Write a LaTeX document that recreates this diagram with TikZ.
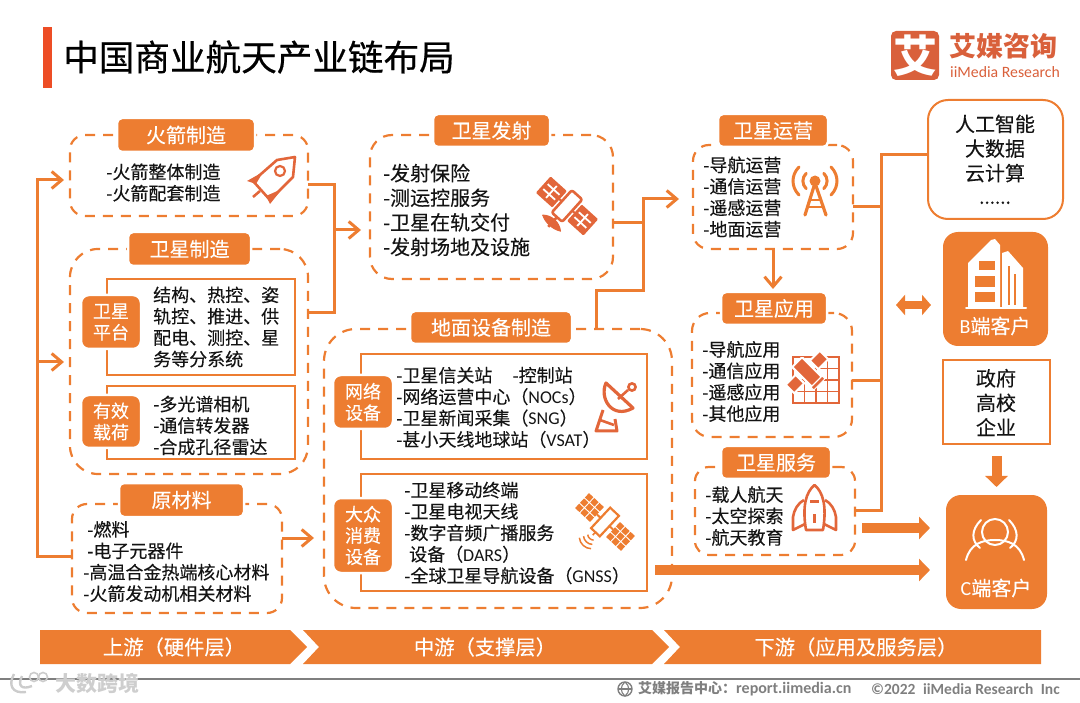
\documentclass[tikz,border=0pt]{standalone}
\usepackage{fontspec}
\usetikzlibrary{arrows.meta,calc}
\setmainfont{Noto Sans CJK SC}[FakeBold=0.2]
\newfontfamily\titlef{Noto Sans CJK SC}[FakeBold=0.5]
\newfontfamily\logof{Noto Sans CJK SC}
\newfontfamily\latf{Carlito}
\newcommand\lat[1]{{\latf #1}}
\newcommand\dn[1]{\raisebox{-1.2pt}{#1}}
\definecolor{og}{HTML}{ED7D31}
\definecolor{ic}{HTML}{E2663A}
\definecolor{lg}{HTML}{D9603B}
\definecolor{tk}{HTML}{141414}
\definecolor{gy}{HTML}{7F7F7F}
\newcommand\boxat[7]{\node[#1,minimum width={(#5-#3)*1pt},minimum height={(#6-#4)*1pt}] (#2) at ({(#3+#5)/2},{(#4+#6)/2}) {#7};}
\tikzset{
 dbox/.style={draw=og,line width=2.2pt,dash pattern=on 10pt off 8pt,inner sep=0pt,outer sep=0pt},
 ibox/.style={draw=og,line width=2.2pt,inner sep=0pt,outer sep=0pt},
 lab/.style={fill=og,draw=white,line width=2.5pt,rounded corners=5pt,inner sep=0pt,outer sep=0pt,text=white,font=\fontsize{20}{24}\selectfont},
 tagb/.style={fill=og,draw=white,line width=2.5pt,rounded corners=8pt,inner sep=0pt,outer sep=0pt,text=white,align=center,font=\fontsize{18}{21.3}\selectfont},
 txt/.style={anchor=west,inner sep=0pt,align=left,text=tk,font=\fontsize{18}{21.4}\selectfont},
 big/.style={inner sep=0pt,align=center,text=tk,font=\fontsize{20}{24.6}\selectfont},
 bandt/.style={inner sep=0pt,text=white,font=\fontsize{20.3}{24}\selectfont},
 conn/.style={draw=og,line width=3pt},
 barb/.style={-{Straight Barb[length=10pt,width=17pt,line width=3pt]}},
 fat/.style={draw=og,line width=10pt,-{Triangle[length=11pt,width=22pt]}},
 cust/.style={fill=og,rounded corners=15pt,inner sep=0pt,outer sep=0pt},
 icl/.style={draw=ic,line width=2.6pt,line join=round},
 wl/.style={draw=white,line width=2pt,line cap=round}
}
\begin{document}
\begin{tikzpicture}[x=1pt,y=-1pt]
\useasboundingbox (0,0) rectangle (1080,703);
% title
\path[fill=ic!70!red!90!orange] (43,27) rectangle (52,88);
\node[anchor=west,inner sep=0pt,text=black,font=\titlef\fontsize{35.6}{40}\selectfont] (title) at (63,57) {中国商业航天产业链布局};
% logo
\boxat{fill=lg,rounded corners=5pt,inner sep=0pt,text=white,font=\logof\bfseries\fontsize{44}{44}\selectfont}{logo}{891}{31}{939}{80}{艾}
\node[anchor=west,inner sep=0pt,text=lg,font=\logof\bfseries\fontsize{27}{27}\selectfont] (lgt) at (949,46.5) {艾媒咨询};
\node[anchor=west,inner sep=0pt,text=lg,font=\latf\fontsize{15.8}{16}\selectfont] (lgl) at (950,72) {iiMedia Research};
% dashed boxes
\boxat{dbox,rounded corners=15pt}{hj}{70}{135}{308}{216}{}
\boxat{dbox,rounded corners=28pt}{wx}{70}{249}{308}{474}{}
\boxat{dbox,rounded corners=15pt}{yl}{72}{504}{282}{613}{}
\boxat{dbox,rounded corners=22pt}{fs}{370}{135}{613}{279}{}
\boxat{dbox,rounded corners=32pt}{dm}{324}{329}{672}{608}{}
\boxat{dbox,rounded corners=16pt}{yy}{693}{145}{853}{249}{}
\boxat{dbox,rounded corners=18pt}{yyu}{692}{313}{852}{437}{}
\boxat{dbox,rounded corners=14pt}{fw}{695}{467}{855}{555}{}
% right-hand boxes
\boxat{draw=og,line width=2pt,rounded corners=20pt,inner sep=0pt,outer sep=0pt}{rg}{928}{100}{1063}{219}{}
\boxat{draw=og,line width=1.6pt,inner sep=0pt,outer sep=0pt}{gov}{943}{360}{1050}{444}{}
\boxat{cust}{bc}{943}{232}{1048}{346}{}
\boxat{cust}{cc}{946}{495}{1047}{609}{}
% coordinates
\coordinate (l1) at (37,180); \coordinate (l2) at (37,362); \coordinate (l3) at (37,556);
\coordinate (c1) at (334,185); \coordinate (c2) at (334,230); \coordinate (c3) at (334,313);
\coordinate (c4) at (298,538);
\coordinate (m1) at (643,223); \coordinate (m2) at (643,199); \coordinate (d1) at (596,291); \coordinate (d2) at (643,291);
\coordinate (r1) at (881,155); \coordinate (r2) at (881,510); \coordinate (rb1) at (881,207); \coordinate (rb2) at (881,381);
\coordinate (f2) at (655,570); \coordinate (f3) at (862,528); \coordinate (da) at (913,305);
% connectors
\draw[conn] (yl.west |- l3) -- (l3) -- (l2);
\draw[conn,barb,shorten >=6pt] (l2) -- (l1) -- (hj.west |- l1);
\draw[conn,barb,shorten >=6pt] (l2) -- (wx.west |- l2);
\draw[conn] (hj.east |- c1) -- (c1) -- (c3) -- (wx.east |- c3);
\draw[conn,barb,shorten >=9pt] (c2) -- (fs.west |- c2);
\draw[conn,barb,shorten >=10pt] (yl.east |- c4) -- (dm.west |- c4);
\draw[conn] (fs.east |- m1) -- (m1);
\draw[conn,barb,shorten >=14pt] (dm.north -| d1) -- (d1) -- (d2) -- (m2) -- (yy.west |- m2);
\draw[conn] (rg.west |- r1) -- (r1) -- (r2) -- (fw.east |- r2);
\draw[conn] (yy.east |- rb1) -- (rb1);
\draw[conn] (yyu.east |- rb2) -- (rb2);
% inner boxes
\boxat{ibox}{i1}{107}{279}{295}{375}{}
\boxat{ibox}{i2}{107}{386}{295}{459}{}
\boxat{ibox}{i3}{361}{354}{647}{459}{}
\boxat{ibox}{i4}{361}{474}{647}{591}{}
% tags
\boxat{tagb}{t1}{81}{295}{141}{349}{卫星\\平台}
\boxat{tagb}{t2}{81}{395}{141}{448}{有效\\载荷}
\boxat{tagb}{t3}{333}{375}{393}{429}{网络\\设备}
\boxat{tagb}{t4}{333}{498}{393}{573}{大众\\消费\\设备}
% labels
\boxat{lab}{L1}{117}{118}{255}{152}{\dn{火箭制造}}
\boxat{lab}{L2}{128}{232}{251}{266}{\dn{卫星制造}}
\boxat{lab}{L3}{119}{483}{244}{517}{\dn{原材料}}
\boxat{lab}{L4}{433}{114}{550}{147}{\dn{卫星发射}}
\boxat{lab}{L5}{410}{311}{572}{344}{\dn{地面设备制造}}
\boxat{lab}{L6}{718}{114}{828}{147}{\dn{卫星运营}}
\boxat{lab}{L7}{721}{292}{827}{325}{\dn{卫星应用}}
\boxat{lab}{L8}{721}{446}{831}{479}{\dn{卫星服务}}
% remaining connectors
\draw[conn,barb,shorten >=3pt] (yy.south) -- (L7.north -| yy.south);
\draw[fat,shorten <=12pt,shorten >=8pt] (gov.south) -- (cc.north);
\draw[fat,shorten >=16pt] (f3) -- (cc.west |- f3);
\draw[fat,shorten >=16pt] (f2) -- (cc.west |- f2);
\draw[draw=og,line width=8pt,{Triangle[length=9pt,width=20pt]}-{Triangle[length=9pt,width=20pt]},shorten <=15pt,shorten >=12pt] (r1 |- da) -- (bc.west |- da);
% texts
\node[txt] (x1) at (106,182.5) {-火箭整体制造\\-火箭配套制造};
\node[txt] (x2) at (153,327) {结构、热控、姿\\轨控、推进、供\\配电、测控、星\\务等分系统};
\node[txt] (x3) at (153,425.5) {-多光谱相机\\-通信转发器\\-合成孔径雷达};
\node[txt] (x4) at (83,561.5) {\hspace{4pt}-燃料\\\hspace{4pt}-电子元器件\\-高温合金热端核心材料\\-火箭发动机相关材料};
\node[txt,font=\fontsize{20}{24.6}\selectfont] (x5) at (383,210) {-发射保险\\-测运控服务\\-卫星在轨交付\\-发射场地及设施};
\node[txt] (x6) at (396,407.5) {-卫星信关站\hspace{20pt}-控制站\\-网络运营中心（\lat{NOCs}）\\-卫星新闻采集（\lat{SNG}）\\-甚小天线地球站（\lat{VSAT}）};
\node[txt] (x7) at (404,533) {-卫星移动终端\\-卫星电视天线\\-数字音频广播服务\\\hspace{5pt}设备（\lat{DARS}）\\-全球卫星导航设备（\lat{GNSS}）};
\node[txt] (x8) at (703,197) {-导航运营\\-通信运营\\-遥感运营\\-地面运营};
\node[txt] (x9) at (702,381.5) {-导航应用\\-通信应用\\-遥感应用\\-其他应用};
\node[txt] (x10) at (705,516) {-载人航天\\-太空探索\\-航天教育};
\node[big] (x11) at (995,160) {人工智能\\大数据\\云计算\\{\raisebox{1.5pt}{\fontsize{19}{24.6}\selectfont ......}}};
\node[big] (x12) at (996,402.5) {政府\\高校\\企业};
\node[inner sep=0pt,text=white,font=\fontsize{20}{24}\selectfont] (x13) at (995,326) {\lat{B}端客户};
\node[inner sep=0pt,text=white,font=\fontsize{20}{24}\selectfont] (x14) at (996,588) {\lat{C}端客户};
% rocket icon
\draw[icl] (277,160) -- (295,157) -- (293,177) -- (270,200) -- (253,181) -- cycle;
\draw[draw=ic,line width=2.2pt] (280,171) circle[radius=5pt];
\path[fill=ic] (263,172) -- (247,181) -- (256,184) -- cycle;
\path[fill=ic] (282,189) -- (270,204) -- (266,196) -- cycle;
\draw[draw=ic,line width=2.6pt] (253,197) -- (260,191);
% satellite icon (launch)
\begin{scope}[shift={(567,206)},rotate=-42]
\foreach \s in {-1,1}{
 \draw[draw=ic,line width=2pt] ({\s*6},0) -- ({\s*11},0);
 \path[fill=ic,draw=ic,line width=2pt,line join=round] ({\s*11},-10) rectangle ({\s*31},10);
 \foreach \v in {-3.3,3.3}{\draw[white,line width=1.8pt] ({\s*13},\v) -- ({\s*29},\v);}
 \draw[white,line width=1.8pt] ({\s*21},-8) -- ({\s*21},8);
}
\draw[icl,fill=white,rounded corners=2pt] (-7,-15) rectangle (7,15);
\draw[icl] (0,15) -- (0,28);
\path[fill=ic,draw=ic,line width=1pt,line join=round] (-12,23) .. controls (-5,17) and (5,17) .. (12,23) .. controls (5,27) and (-5,27) .. (-12,23) -- cycle;
\end{scope}
% dish icon
\draw[icl,line width=3pt] (603,410) -- (596,431) -- (617,431) -- (615,419);
\draw[icl,line width=2.6pt] (600,420) -- (614,425);
\draw[icl,line width=3.2pt,fill=white] (606,383) .. controls (599,398) and (612,420) .. (633,408) -- cycle;
\draw[icl] (618,399) -- (628,390);
\draw[icl,fill=white] (632,387) circle[radius=3.6pt];
% satellite icon (consumer)
\begin{scope}[shift={(605,522)},rotate=-43]
\foreach \s in {-1,1}{
 \foreach \u in {14,21.2,28.4}{\foreach \v in {-7.2,0,7.2}{
  \path[fill=og] ({\s*\u-3},{\v-3}) rectangle ++(6,6);
 }}
 \draw[draw=og,line width=2pt] ({\s*5},0) -- ({\s*11},0);
}
\draw[draw=og,line width=2.2pt,fill=white] (-6,-14) rectangle (6,14);
\draw[draw=og,line width=1.6pt] (0,14) -- (0,18);
\draw[draw=og,line width=1.5pt] (-4,21) .. controls (-2,23) and (2,23) .. (4,21);
\draw[draw=og,line width=1.5pt] (-6,25) .. controls (-3,28) and (3,28) .. (6,25);
\draw[draw=og,line width=1.5pt] (-8,29) .. controls (-4,33) and (4,33) .. (8,29);
\end{scope}
% tower icon
\foreach \r in {11,20}{
 \draw[draw=og,line width=3pt,line cap=round] ({815-0.8*\r},{181-0.7*\r}) .. controls ({815-1.2*\r},{181-0.3*\r}) and ({815-1.2*\r},{181+0.3*\r}) .. ({815-0.8*\r},{181+0.7*\r});
 \draw[draw=og,line width=3pt,line cap=round] ({815+0.8*\r},{181-0.7*\r}) .. controls ({815+1.2*\r},{181-0.3*\r}) and ({815+1.2*\r},{181+0.3*\r}) .. ({815+0.8*\r},{181+0.7*\r});
}
\path[fill=og] (815,181) circle[radius=5.5pt];
\draw[draw=og,line width=3.2pt,line cap=round,line join=round] (805,215) -- (815,183) -- (826,215);
\draw[draw=og,line width=2.6pt] (810,200) -- (821,200);
\draw[draw=og,line width=2.6pt] (807,207) -- (824,207);
% application icon
\draw[draw=ic,line width=1.5pt] (793,357) rectangle (839,403);
\foreach \v in {804.5,816,827.5}{\draw[draw=ic,line width=1.5pt] (\v,357) -- (\v,403);}
\foreach \v in {368.5,380,391.5}{\draw[draw=ic,line width=1.5pt] (793,\v) -- (839,\v);}
\begin{scope}[shift={(807,372)},rotate=-45]
\path[fill=ic,draw=white,line width=2pt,rounded corners=1.5pt] (-14,-7) rectangle (14,7);
\path[fill=ic,draw=white,line width=2pt] (-6,-24) rectangle (6,-10);
\path[fill=ic,draw=white,line width=2pt] (-6,10) rectangle (6,24);
\path[fill=ic,draw=white,line width=1pt,rounded corners=1pt] (13.5,-8) rectangle (17.5,8);
\end{scope}
% rocket icon (service)
\draw[icl] (804,500) .. controls (798,503) and (794,510) .. (793,517) -- (793,530) -- (805,524);
\draw[icl] (825,500) .. controls (831,503) and (835,510) .. (836,517) -- (836,530) -- (824,524);
\draw[icl,fill=white] (806,530) .. controls (802,506) and (806,492) .. (814.5,485) .. controls (823,492) and (827,506) .. (823,530) -- cycle;
\path[fill=ic] (810,500) rectangle (819,502.5);
\path[fill=ic] (813,514) rectangle (816,523);
% building icon
\path[fill=white] (968,263) -- (991,240) -- (995,239) -- (1000,245) -- (1000,307) -- (968,307) -- cycle;
\path[fill=white] (1002,253) -- (1008,251) -- (1023,268) -- (1023,307) -- (1002,307) -- cycle;
\path[fill=og] (979,261) rectangle (995,270);
\path[fill=og] (975,276) rectangle (995,287);
\path[fill=og] (975,292) rectangle (995,302);
\path[fill=og] (1008,266) rectangle (1010,305);
\path[fill=og] (1014,274) rectangle (1016,305);
\draw[wl] (966,308) -- (1026,308);
% people icon
\draw[wl] (995,532) circle[radius=13pt];
\draw[wl] (966,560) .. controls (970,544) and (982,540) .. (995,540) .. controls (1008,540) and (1020,544) .. (1024,560);
\draw[wl] (981,520) .. controls (971,530) and (971,541) .. (980,548);
\draw[wl] (1009,520) .. controls (1019,530) and (1019,541) .. (1010,548);
% bands
\path[fill=og] (40,630) -- (290,630) -- (307,647) -- (290,664) -- (40,664) -- cycle;
\path[fill=og] (303,630) -- (652,630) -- (669,647) -- (652,664) -- (303,664) -- (319,647) -- cycle;
\path[fill=og] (664,630) -- (1041,630) -- (1041,664) -- (664,664) -- (680,647) -- cycle;
\node[bandt] (b1) at (174,647) {上游（硬件层）};
\node[bandt] (b2) at (485,647) {中游（支撑层）};
\node[bandt] (b3) at (856,647) {下游（应用及服务层）};
% footer
\draw[draw=gy,line width=1.6pt] (0,679) -- (1080,679);
\node[anchor=west,inner sep=0pt,text=gy!38,font=\logof\bfseries\fontsize{21}{24}\selectfont] (w1) at (55,683) {大数跨境};
\draw[draw=gy!40,line width=2.4pt] (14,674) .. controls (8,685) and (12,694) .. (26,692);
\draw[draw=gy!40,line width=2.4pt] (22,676) .. controls (17,686) and (22,690) .. (32,686);
\draw[draw=gy!40,line width=1.6pt] (34,677) circle[radius=4.5pt];
\draw[draw=gy!40,line width=1.6pt] (43,677) circle[radius=4.5pt];
\draw[draw=gy,line width=1.4pt] (625,689) circle[radius=7pt];
\draw[draw=gy,line width=1.1pt] (618,689) -- (632,689);
\draw[draw=gy,line width=1.1pt] (625,682) .. controls (620,686) and (620,692) .. (625,696) .. controls (630,692) and (630,686) .. (625,682);
\node[anchor=west,inner sep=0pt,text=gy,font=\logof\bfseries\fontsize{14}{16}\selectfont] (f4) at (638,689) {艾媒报告中心：{\latf\bfseries\fontsize{16}{16}\selectfont report.iimedia.cn}};
\node[anchor=west,inner sep=0pt,text=gy,font=\latf\bfseries\fontsize{15.5}{16}\selectfont] (f5) at (871,689) {©2022\hspace{4pt} iiMedia Research\hspace{4pt} Inc};
\end{tikzpicture}
\end{document}
